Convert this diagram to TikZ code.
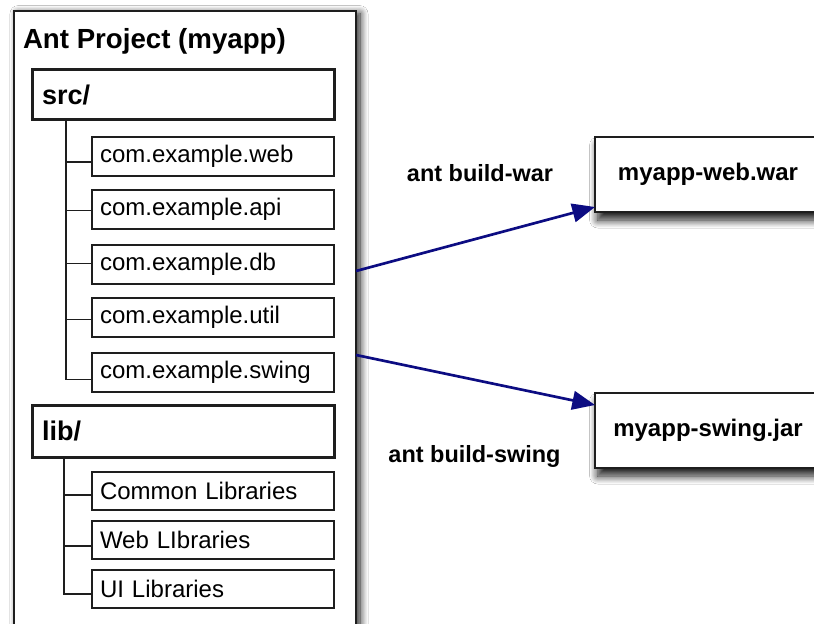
\documentclass[tikz,border=0pt]{standalone}
\usepackage{fontspec}
\setmainfont{Liberation Sans}
\usetikzlibrary{arrows.meta,shadows.blur}
\newdimen\pxu \pxu=0.75pt
\definecolor{arrowblue}{RGB}{12,12,130}
\definecolor{edge}{RGB}{30,30,30}

\begin{document}
\begin{tikzpicture}[x=0.75pt,y=-0.75pt,
  every node/.style={inner sep=0pt, outer sep=0pt},
  panel/.style={draw=edge, line width=1.5pt, fill=white, anchor=north west,
    blur shadow={shadow xshift=3pt, shadow yshift=-2pt, shadow blur radius=6pt, shadow blur steps=10, shadow opacity=90}},
  folder/.style={draw=edge, line width=2.25pt, fill=white, anchor=north west,
    text width=282\pxu, inner xsep=10\pxu, align=left,
    font=\bfseries\fontsize{20.25}{24}\selectfont},
  pkg/.style={draw=edge, line width=1.1pt, fill=white, anchor=north west,
    text width=226\pxu, inner xsep=8\pxu, align=left,
    font=\fontsize{18}{21}\selectfont},
  artifact/.style={draw=edge, line width=1.5pt, fill=white, anchor=north west,
    minimum width=226\pxu, minimum height=75\pxu,
    font=\bfseries\fontsize{18}{21}\selectfont,
    blur shadow={shadow xshift=2pt, shadow yshift=-6pt, shadow blur radius=6pt, shadow blur steps=10, shadow opacity=90}},
  cmd/.style={anchor=base, font=\bfseries\fontsize{17.6}{21}\selectfont},
  branch/.style={draw=edge, line width=1.1pt},
  build/.style={draw=arrowblue, line width=2pt, -{Triangle[length=17pt,width=14pt]}}
]
\useasboundingbox (0,0) rectangle (814,624);
\clip (0,0) rectangle (814,624);
\fill[white] (0,0) rectangle (814,624);

% project panel
\node[panel, minimum width=342\pxu, minimum height=650\pxu] (proj) at (14,11) {};
\node[anchor=base west, font=\bfseries\fontsize{20.75}{24}\selectfont] (title) at (23,49) {Ant Project (myapp)};

% source folder and its packages
\node[folder, minimum height=50\pxu] (src) at (32,70) {src/};
\node[pkg, minimum height=39\pxu] (web)   at (92,137) {com.example.web};
\node[pkg, minimum height=39\pxu] (api)   at (92,190) {com.example.api};
\node[pkg, minimum height=39\pxu] (db)    at (92,245) {com.example.db};
\node[pkg, minimum height=39\pxu] (util)  at (92,298) {com.example.util};
\node[pkg, minimum height=39\pxu] (swing) at (92,353) {com.example.swing};

\draw[branch] ([xshift=25.5pt]src.south west) |- ([yshift=-4.1pt]web.west);
\draw[branch] ([xshift=25.5pt]src.south west) |- ([yshift=-0.9pt]api.west);
\draw[branch] ([xshift=25.5pt]src.south west) |- ([yshift=0.75pt]db.west);
\draw[branch] ([xshift=25.5pt]src.south west) |- ([yshift=-1.4pt]util.west);
\draw[branch] ([xshift=25.5pt]src.south west) |- ([yshift=-5.1pt]swing.west);

% library folder and its groups
\node[folder, minimum height=52\pxu] (lib) at (32,405) {lib/};
\node[pkg, minimum height=38\pxu] (common) at (92,472) {Common Libraries};
\node[pkg, minimum height=38\pxu] (weblib) at (92,521) {Web LIbraries};
\node[pkg, minimum height=38\pxu] (uilib)  at (92,570) {UI Libraries};

\draw[branch] ([xshift=24pt]lib.south west) |- ([yshift=-3pt]common.west);
\draw[branch] ([xshift=24pt]lib.south west) |- ([yshift=-4.5pt]weblib.west);
\draw[branch] ([xshift=24pt]lib.south west) |- ([yshift=-3.75pt]uilib.west);

% build artifacts
\node[artifact] (war) at (595,137) {myapp-web.war};
\node[artifact] (jar) at (595,393) {myapp-swing.jar};

\node[cmd] (warcmd)   at (480,182) {ant build-war};
\node[cmd] (swingcmd) at (474.5,462) {ant build-swing};

\draw[build] ([yshift=-195pt]proj.north east) -- ([yshift=3.75pt]war.south west);
\draw[build] ([yshift=-258pt]proj.north east) -- ([yshift=-9pt]jar.north west);
\end{tikzpicture}
\end{document}
